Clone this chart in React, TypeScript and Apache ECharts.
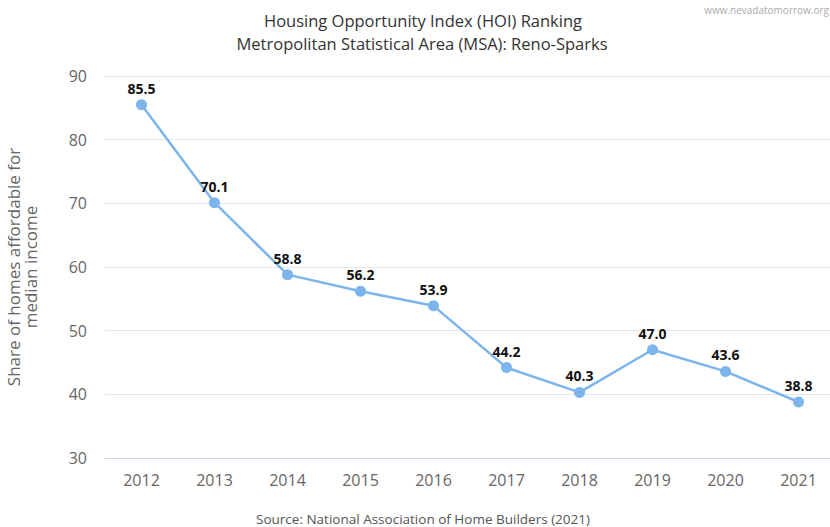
import React, { useEffect, useRef } from "react";
import * as echarts from "echarts";

const years = ["2012", "2013", "2014", "2015", "2016", "2017", "2018", "2019", "2020", "2021"];
const hoiValues = [85.5, 70.1, 58.8, 56.2, 53.9, 44.2, 40.3, 47.0, 43.6, 38.8];
const titleLines = ["Housing Opportunity Index (HOI) Ranking", "Metropolitan Statistical Area (MSA): Reno-Sparks"];
const yAxisTitle = "Share of homes affordable for\nmedian income";
const sourceText = "Source: National Association of Home Builders (2021)";
const watermark = "www.nevadatomorrow.org";

export default function App() {
  const ref = useRef<HTMLDivElement>(null);
  useEffect(() => {
    document.body.style.margin = "0";
    const chart = echarts.init(ref.current!, null, { renderer: "svg" });
    const font = "'Open Sans', 'DejaVu Sans', sans-serif";
    chart.setOption({
      animation: false,
      textStyle: { fontFamily: font },
      grid: { left: 105, top: 76, width: 730, bottom: 69, containLabel: false, outerBoundsMode: "none" },
      graphic: [
        { type: "text", x: 423, y: 20.5, style: { text: titleLines[0], fill: "#333", font: `16.5px ${font}`, textAlign: "center", textVerticalAlign: "middle" } },
        { type: "text", x: 422, y: 43.5, style: { text: titleLines[1], fill: "#333", font: `16.5px ${font}`, textAlign: "center", textVerticalAlign: "middle" } },
        { type: "text", x: 829, y: 10, style: { text: watermark, fill: "#aaa", font: `10px ${font}`, textAlign: "right", textVerticalAlign: "middle" } },
        { type: "text", x: 423, y: 519, style: { text: sourceText, fill: "#555", font: `13.5px ${font}`, textAlign: "center", textVerticalAlign: "middle" } },
      ],
      xAxis: {
        type: "category",
        data: years,
        boundaryGap: true,
        axisLine: { lineStyle: { color: "#ccd6eb" } },
        axisTick: { show: false },
        axisLabel: { color: "#666", fontSize: 16, margin: 14, fontFamily: font },
      },
      yAxis: {
        type: "value",
        min: 30,
        max: 90,
        interval: 10,
        name: yAxisTitle,
        nameLocation: "middle",
        nameRotate: 90,
        nameGap: 66,
        nameTextStyle: { color: "#666", fontSize: 17, fontFamily: font, lineHeight: 17 },
        axisLine: { show: false },
        axisTick: { show: false },
        splitLine: { lineStyle: { color: "#e6e6e6" } },
        axisLabel: { color: "#666", fontSize: 16, margin: 18, fontFamily: font },
      },
      series: [
        {
          type: "line",
          data: hoiValues,
          color: "#7cb5ec",
          lineStyle: { width: 2.5, color: "#7cb5ec" },
          symbol: "circle",
          symbolSize: 11,
          itemStyle: { color: "#7cb5ec" },
          label: {
            show: true,
            position: "top",
            distance: 4,
            color: "#111",
            fontWeight: "bold",
            fontSize: 14,
            fontFamily: font,
            formatter: (p: any) => Number(p.value).toFixed(1),
          },
        },
      ],
    });
    return () => chart.dispose();
  }, []);
  return <div ref={ref} style={{ position: "absolute", left: 0, top: 0, width: 830, height: 527 }} />;
}
